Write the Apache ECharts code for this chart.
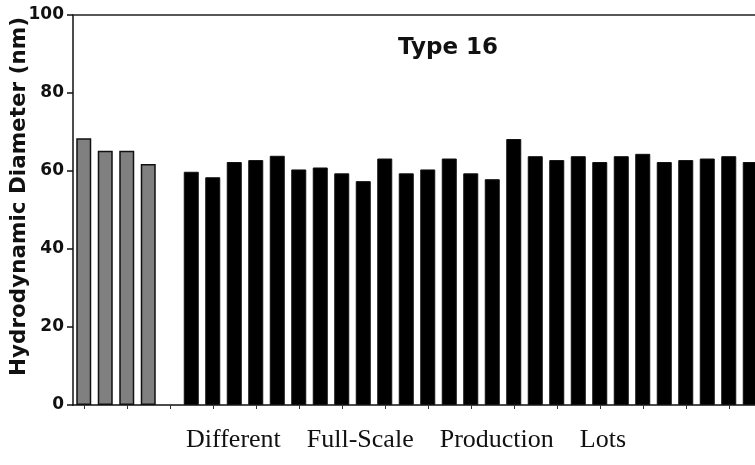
<!DOCTYPE html>
<html>
<head>
<meta charset="utf-8">
<script src="https://cdn.jsdelivr.net/npm/echarts@6/dist/echarts.min.js"></script>
<style>
  html, body { margin: 0; padding: 0; background: #fff; }
  #chart { width: 755px; height: 465px; }
</style>
</head>
<body>
<div id="chart"></div>
<script>
// Hydrodynamic diameter (nm) of Type 16 particles
// Reference lots (grey), one empty slot, then full-scale production lots (black)
const referenceLots = ['R1', 'R2', 'R3', 'R4'];
const referenceValues = [68.4, 65.2, 65.2, 61.8];

const productionLots = [
  'P1', 'P2', 'P3', 'P4', 'P5', 'P6', 'P7', 'P8', 'P9', 'P10',
  'P11', 'P12', 'P13', 'P14', 'P15', 'P16', 'P17', 'P18', 'P19', 'P20',
  'P21', 'P22', 'P23', 'P24', 'P25', 'P26', 'P27'
];
const productionValues = [
  59.8, 58.4, 62.3, 62.8, 63.9, 60.4, 60.9, 59.4, 57.4, 63.2,
  59.4, 60.4, 63.2, 59.4, 57.9, 68.2, 63.8, 62.8, 63.8, 62.3,
  63.8, 64.4, 62.3, 62.8, 63.2, 63.8, 62.3
];

const yTicks = [0, 20, 40, 60, 80, 100];

const spacer = [''];
const categories = referenceLots.concat(spacer, productionLots);

// pad each series so both share one category axis
const greySeries = referenceValues.concat(spacer.map(() => null), productionLots.map(() => null));
const blackSeries = referenceLots.map(() => null).concat(spacer.map(() => null), productionValues);

const chart = echarts.init(document.getElementById('chart'), null, { renderer: 'canvas' });

chart.setOption({
  animation: false,
  backgroundColor: '#ffffff',
  title: {
    text: 'Type 16',
    left: 443,
    top: 32,
    textAlign: 'center',
    textStyle: { fontFamily: 'DejaVu Sans', fontWeight: 'bold', fontSize: 23, color: '#111' }
  },
  grid: { left: 73, right: -6, top: 15, bottom: 60, containLabel: false, outerBoundsMode: 'none' },
  xAxis: [
    {
      type: 'category',
      data: categories,
      position: 'bottom',
      name: 'Different    Full-Scale    Production    Lots',
      nameLocation: 'middle',
      nameGap: 22,
      nameMoveOverlap: false,
      nameTextStyle: {
        fontFamily: 'Liberation Serif', fontSize: 26, color: '#111',
        padding: [0, 22, 0, 0]
      },
      axisLine: { show: true, lineStyle: { color: '#111', width: 1.5 } },
      axisTick: { show: true, alignWithLabel: true, length: 4, lineStyle: { color: '#333', width: 1 } },
      axisLabel: { show: false },
      splitLine: { show: false }
    },
    {
      type: 'category',
      data: categories,
      position: 'top',
      axisLine: { show: true, lineStyle: { color: '#222', width: 1.5 } },
      axisTick: { show: false },
      axisLabel: { show: false },
      splitLine: { show: false }
    }
  ],
  yAxis: {
    type: 'value',
    min: yTicks[0],
    max: yTicks[yTicks.length - 1],
    interval: yTicks[1] - yTicks[0],
    name: 'Hydrodynamic Diameter (nm)',
    nameLocation: 'middle',
    nameRotate: 90,
    nameGap: 43,
    nameMoveOverlap: false,
    nameTextStyle: {
      fontFamily: 'DejaVu Sans', fontWeight: 'bold', fontSize: 21.5, color: '#111',
      padding: [0, 0, 0, 27]
    },
    axisLine: { show: true, lineStyle: { color: '#111', width: 1.5 } },
    axisTick: { show: true, inside: false, length: 6, lineStyle: { color: '#111', width: 1.5 } },
    axisLabel: {
      margin: 9,
      fontFamily: 'DejaVu Sans', fontWeight: 'bold', fontSize: 17, color: '#111'
    },
    splitLine: { show: false }
  },
  series: [
    {
      name: 'Reference',
      type: 'bar',
      xAxisIndex: 0,
      data: greySeries,
      barWidth: 15,
      barGap: '-100%',
      itemStyle: { color: '#808080', borderColor: '#111', borderWidth: 1.5 }
    },
    {
      name: 'Production',
      type: 'bar',
      xAxisIndex: 0,
      data: blackSeries,
      barWidth: 15,
      barGap: '-100%',
      itemStyle: { color: '#000000', borderColor: '#111', borderWidth: 1 }
    }
  ]
});
</script>
</body>
</html>
